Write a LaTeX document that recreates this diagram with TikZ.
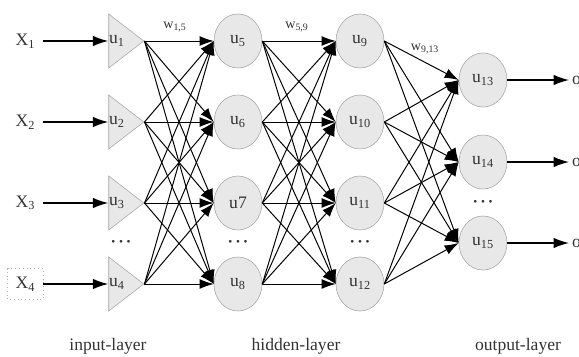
\documentclass[tikz,border=0pt]{standalone}
\usepackage{fontspec}
\setmainfont{Liberation Serif}
\usetikzlibrary{arrows.meta,shapes.geometric}
\tikzset{
  neuron/.style={ellipse, draw=gray!70, fill=gray!18, minimum width=1.2cm,
    minimum height=1.35cm, inner sep=0pt},
  inneuron/.style={isosceles triangle, isosceles triangle stretches,
    draw=gray!70, fill=gray!18, minimum width=1.35cm, minimum height=0.875cm,
    inner sep=0pt},
  xin/.style={minimum width=0.875cm, minimum height=0.75cm, inner sep=0pt},
  link/.style={-{Latex[length=10pt,width=7pt]}, line width=0.7pt},
  inlink/.style={-{Latex[length=11pt,width=7.5pt]}, line width=1.3pt},
  lbl/.style={text=black!80},
  dots/.style={text=black!80, font=\fontsize{8}{9}\selectfont}
}

\begin{document}
\begin{tikzpicture}[x=0.025cm,y=-0.025cm, font=\fontsize{12.5}{14}\selectfont]
\useasboundingbox (0,0) rectangle (579,356);

% input layer
\foreach \i/\y in {1/41,2/122,3/203,4/284}{
  \node[inneuron] (in\i) at (122,\y) {};
  \node[lbl] (inl\i) at (117,\y) {u\textsubscript{\i}};
  \node[lbl,xin] (x\i) at (25.5,\y) {X\textsubscript{\i}};
}
\draw[gray!60, dotted, line width=0.7pt] (x4.south west) rectangle (x4.north east);
\foreach \i in {1,...,4}
  \draw[inlink] (x\i.east) -- (in\i.west);

% hidden layers
\foreach \i/\y/\t in {1/41/{u\textsubscript{5}},2/122/{u\textsubscript{6}},3/203/{u7},4/284/{u\textsubscript{8}}}
  \node[neuron,lbl] (ha\i) at (238,\y) {\t};
\foreach \i/\y/\t in {1/41/9,2/122/10,3/203/11,4/284/12}
  \node[neuron,lbl] (hb\i) at (360,\y) {u\textsubscript{\t}};

% output layer
\foreach \i/\y/\t in {1/80/13,2/162/14,3/243/15}{
  \node[neuron,lbl] (out\i) at (483,\y) {u\textsubscript{\t}};
  \node[lbl, anchor=west, inner sep=2pt] (o\i) at (569,\y) {o};
  \draw[inlink, line width=1pt] (out\i.east) -- (o\i.west);
}

% dots
\node[dots] (d1) at (121,243) {\textbullet\,\,\textbullet\,\,\textbullet};
\node[dots] (d2) at (238,243) {\textbullet\,\,\textbullet\,\,\textbullet};
\node[dots] (d3) at (360,243) {\textbullet\,\,\textbullet\,\,\textbullet};
\node[dots] (d4) at (483,203) {\textbullet\,\,\textbullet\,\,\textbullet};

% connections
\foreach \a in {1,...,4}
  \foreach \b in {1,...,4}
    \draw[link] (in\a.apex) -- (ha\b.west);
\foreach \a in {1,...,4}
  \foreach \b in {1,...,4}
    \draw[link] (ha\a.east) -- (hb\b.west);
\foreach \a in {1,...,4}
  \foreach \b in {1,...,3}
    \draw[link] (hb\a.east) -- (out\b.west);

% weights
\node[lbl, font=\fontsize{10}{12}\selectfont] (w1) at (175,27) {w\textsubscript{1,5}};
\node[lbl, font=\fontsize{10}{12}\selectfont] (w2) at (297,27) {w\textsubscript{5,9}};
\node[lbl, font=\fontsize{10}{12}\selectfont] (w3) at (425,49) {w\textsubscript{9,13}};

% layer names
\node[lbl] (lin) at (108,346) {input-layer};
\node[lbl] (lhid) at (296,346) {hidden-layer};
\node[lbl] (lout) at (518,346) {output-layer};
\end{tikzpicture}
\end{document}
